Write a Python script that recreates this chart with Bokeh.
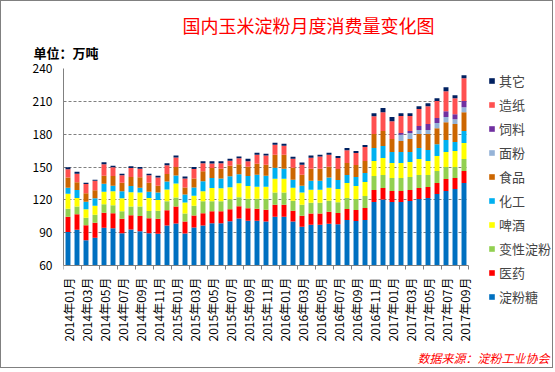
import math
from bokeh.plotting import figure
from bokeh.models import FixedTicker, Legend, LegendItem, Title, ColumnDataSource, Range1d, Label
from bokeh.core.properties import value
from bokeh.embed import file_html
from bokeh.resources import INLINE

months = [f"{y}年{m:02d}月" for y in (2014, 2015, 2016, 2017) for m in range(1, 13)][:45]

series_names = ["淀粉糖", "医药", "变性淀粉", "啤酒", "化工", "食品", "面粉", "饲料", "造纸", "其它"]
colors = ["#0070C0", "#FF0000", "#92D050", "#FFFF00", "#00B0F0", "#CC6600", "#95B3D7", "#7030A0", "#FF5050", "#002060"]

dianfentang = [90.6, 92.7, 83.0, 85.4, 94.6, 94.0, 89.4, 93.0, 91.2, 89.4, 89.1, 96.5, 98.4, 89.3, 94.8,
               96.5, 98.5, 98.6, 100.4, 103.0, 101.0, 101.0, 100.1, 104.6, 104.6, 100.1, 95.5, 97.3, 97.3, 98.2,
               97.6, 101.6, 100.7, 101.6, 118.1, 120.3, 118.1, 118.1, 119.0, 120.8, 121.7, 125.3, 128.1, 129.9, 135.4]
yiyao = [14.0, 14.1, 13.7, 13.7, 13.7, 13.7, 13.4, 12.8, 14.0, 13.7, 13.7, 14.0, 15.6, 11.0, 10.9,
         11.3, 11.0, 10.9, 11.0, 11.1, 11.2, 10.9, 10.9, 11.0, 11.0, 10.0, 10.0, 10.1, 10.1, 11.0,
         10.3, 10.1, 10.1, 11.0, 10.9, 10.5, 10.0, 10.0, 10.0, 10.0, 10.0, 10.1, 10.9, 10.0, 10.9]
bianxing = [7.3, 7.0, 7.0, 7.3, 7.6, 7.3, 6.7, 8.2, 8.6, 6.7, 7.3, 8.2, 8.2, 7.3, 8.9,
            10.9, 9.1, 9.1, 9.2, 8.2, 8.9, 9.2, 10.1, 11.0, 11.0, 9.1, 10.1, 10.0, 10.0, 10.0,
            10.0, 10.0, 10.0, 10.9, 12.8, 11.9, 11.8, 11.8, 11.9, 11.9, 11.0, 10.9, 11.0, 10.1, 11.0]
pijiu = [13.7, 7.9, 7.6, 8.3, 11.6, 12.8, 11.9, 12.9, 12.8, 11.9, 9.8, 10.7, 12.8, 10.0, 9.1,
         9.2, 12.2, 11.9, 10.8, 12.8, 11.5, 10.9, 10.9, 12.7, 12.7, 11.9, 11.0, 11.9, 11.9, 11.9,
         11.9, 13.7, 11.8, 12.8, 13.6, 15.5, 13.7, 13.7, 13.6, 14.6, 12.7, 13.7, 13.6, 14.6, 14.6]
huagong = [5.5, 7.3, 7.0, 6.7, 7.3, 5.1, 6.4, 5.7, 4.5, 5.8, 6.7, 7.3, 7.3, 7.3, 7.6,
           9.1, 9.1, 9.1, 10.2, 8.2, 9.2, 11.0, 10.1, 10.1, 9.1, 7.3, 6.3, 8.2, 8.2, 9.2,
           8.4, 7.3, 8.3, 8.2, 11.9, 10.9, 10.0, 10.0, 9.1, 10.0, 10.1, 10.9, 11.0, 8.2, 10.9]
shipin = [9.2, 7.0, 7.7, 7.3, 7.3, 8.9, 7.9, 8.3, 9.5, 8.2, 6.3, 7.0, 7.6, 6.4, 8.2,
          9.1, 9.2, 8.8, 9.5, 9.1, 8.5, 10.0, 10.0, 11.9, 12.8, 11.0, 10.1, 11.0, 11.0, 10.0,
          10.0, 10.9, 10.9, 10.9, 12.8, 13.7, 11.9, 10.1, 11.9, 12.8, 14.6, 14.6, 16.4, 16.4, 17.3]
mianfen = [0] * 37 + [5.8, 5.5, 3.6, 3.6, 4.6, 4.6, 4.5, 4.6]
siliao = [0] * 37 + [1.5, 1.8, 3.7, 5.5, 4.6, 5.4, 4.6, 5.5]
zaozhi = [7.6, 7.9, 8.5, 8.8, 10.3, 7.9, 6.7, 8.2, 7.9, 6.7, 7.4, 7.9, 8.8, 8.2, 8.6,
          7.3, 4.2, 5.0, 4.6, 5.5, 4.9, 8.3, 8.3, 9.1, 8.2, 8.2, 9.1, 10.0, 11.0, 11.0,
          10.0, 11.6, 10.9, 12.8, 16.3, 17.3, 16.4, 15.5, 13.7, 15.5, 16.4, 15.5, 18.3, 14.6, 20.9]
qita = [1.8, 1.8, 1.2, 0.9, 1.9, 1.5, 1.5, 1.5, 1.5, 1.5, 1.8, 1.8, 1.9, 1.9, 1.8,
        1.9, 1.9, 1.9, 1.8, 1.8, 2.4, 1.8, 1.8, 1.8, 1.8, 1.8, 1.9, 1.9, 1.8, 1.8,
        1.9, 2.1, 1.9, 1.8, 2.8, 3.7, 3.7, 2.7, 2.7, 2.7, 2.7, 2.7, 3.6, 2.7, 2.8]

y_ticks = [60, 90, 120, 150, 180, 210, 240]

FONT = "Noto Sans CJK SC"

# ---- layout constants (pixels) ----
W, H = 553, 368
FRAME_L, FRAME_T, FRAME_R, FRAME_B = 62, 67, 552, 364
AXIS_PX = 264                     # pixel row of the value-axis floor
SLOT_PX = 9                       # pixels per month
PPU = (AXIS_PX - FRAME_T) / (y_ticks[-1] - y_ticks[0])   # pixels per unit

n = len(months)
xs = list(range(1, n + 1))
x_end = 0.5 + (FRAME_R - FRAME_L) / SLOT_PX
y_start = y_ticks[0] - (FRAME_B - AXIS_PX) / PPU

all_series = [dianfentang, yiyao, bianxing, pijiu, huagong, shipin, mianfen, siliao, zaozhi, qita]
data = {"x": xs}
cum = [0.0] * n
for name, vals in zip(series_names, all_series):
    bottom = [max(c, y_ticks[0]) for c in cum]
    cum = [c + v for c, v in zip(cum, vals)]
    data[name + "_b"] = bottom
    data[name + "_t"] = cum
source = ColumnDataSource(data)

p = figure(width=W, height=H, output_backend="svg", toolbar_location=None,
           x_range=Range1d(0.5, x_end), y_range=Range1d(y_start, y_ticks[-1]),
           min_border_left=FRAME_L, min_border_right=W - FRAME_R, min_border_top=FRAME_T,
           min_border_bottom=H - FRAME_B)
p.outline_line_color = None
p.background_fill_color = "white"
p.border_fill_color = "white"

renderers = []
for name, c in zip(series_names, colors):
    r = p.vbar(x="x", bottom=name + "_b", top=name + "_t", width=0.55, color=c, line_color=None, source=source)
    renderers.append(r)

# y axis
p.yaxis.ticker = FixedTicker(ticks=y_ticks)
p.yaxis.bounds = (y_ticks[0], y_ticks[-1])
p.yaxis.axis_line_color = "#808080"
p.yaxis.major_tick_out = 0
p.yaxis.major_tick_in = 0
p.yaxis.minor_tick_line_color = None
p.yaxis.major_label_standoff = 11
p.yaxis.major_label_text_font = FONT
p.yaxis.major_label_text_font_size = "12px"
p.yaxis.major_label_text_color = "black"

# x axis: drawn at the value floor, tick marks between every second month
p.xaxis.fixed_location = y_ticks[0]
p.xaxis.bounds = (0.5, n + 0.5)
p.xaxis.ticker = FixedTicker(ticks=[], minor_ticks=[t - 0.5 for t in xs[::2]] + [n + 0.5])
p.xaxis.axis_line_color = "#808080"
p.xaxis.major_tick_out = 0
p.xaxis.major_tick_in = 0
p.xaxis.minor_tick_line_color = "#808080"
p.xaxis.minor_tick_out = 4
p.xaxis.minor_tick_in = 0
p.xaxis.major_label_standoff = 0

# month labels, vertical, below the axis
label_ticks = xs[::2]
lab_src = ColumnDataSource(dict(x=label_ticks, y=[y_ticks[0] - 12 / PPU] * len(label_ticks),
                                text=[months[t - 1] for t in label_ticks]))
p.text(x="x", y="y", text="text", source=lab_src, angle=math.pi / 2, text_align="right",
       text_baseline="middle", text_font=value(FONT), text_font_size="12px", text_color="black")

# grid
p.xgrid.grid_line_color = None
p.ygrid.grid_line_color = "#808080"
p.ygrid.grid_line_dash = "3 2"
p.ygrid.grid_line_width = 1
try:
    p.ygrid.cross_bounds = (0.5, n + 0.5)
except Exception:
    p.ygrid.grid_line_color = None
    p.segment(x0=0.5, x1=n + 0.5, y0=y_ticks[1:], y1=y_ticks[1:], line_color="#808080", line_dash="3 2")

# legend (top item = top of the stack)
items = [LegendItem(label=nm, renderers=[r]) for nm, r in zip(series_names, renderers)][::-1]
legend = Legend(items=items, location=(487 - FRAME_L, FRAME_B - 69 - 236), glyph_width=7, glyph_height=7,
                label_standoff=4, spacing=4, label_height=20, padding=0, margin=0,
                border_line_color=None, background_fill_alpha=0,
                label_text_font=FONT, label_text_font_size="13px")
p.add_layout(legend, "center")

# titles
p.add_layout(Title(text="单位：万吨", align="left", offset=-30, text_font=FONT, vertical_align="top",
                   text_font_size="13px", text_font_style="bold", text_color="black", standoff=10), "above")
p.add_layout(Title(text="国内玉米淀粉月度消费量变化图", align="center", text_font=FONT,
                   text_font_size="18px", text_font_style="normal", text_color="#FF0000", standoff=0), "above")

# source note
p.add_layout(Label(x=0.5 + (548 - FRAME_L) / SLOT_PX, y=y_ticks[0] - (356 - AXIS_PX) / PPU,
                   text="数据来源：淀粉工业协会", text_align="right", text_baseline="middle",
                   text_font=FONT, text_font_size="12px", text_font_style="italic", text_color="#FF0000"))

p.styles = {"border": "1px solid #808080"}

open("out.html", "w").write(file_html(p, INLINE))
